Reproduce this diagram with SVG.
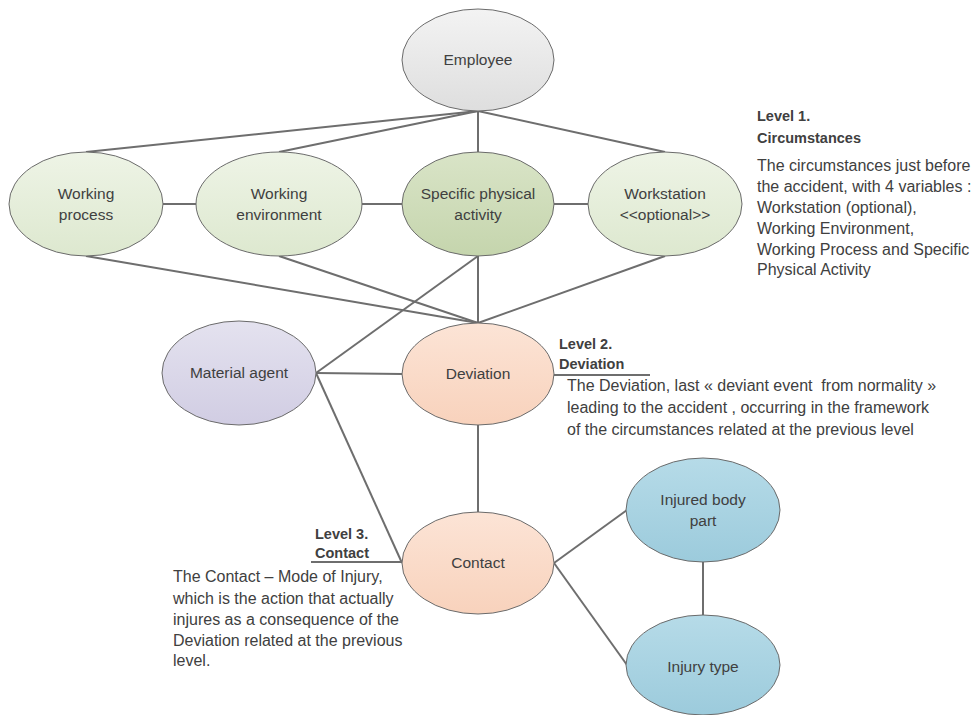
<svg xmlns="http://www.w3.org/2000/svg" width="974" height="715" viewBox="0 0 974 715">
<defs>
<linearGradient id="gGrey" x1="0" y1="0" x2="0" y2="1"><stop offset="0" stop-color="#f3f3f3"/><stop offset="1" stop-color="#dedede"/></linearGradient>
<linearGradient id="gGreen" x1="0" y1="0" x2="0" y2="1"><stop offset="0" stop-color="#eef4e6"/><stop offset="1" stop-color="#dde8cf"/></linearGradient>
<linearGradient id="gGreenD" x1="0" y1="0" x2="0" y2="1"><stop offset="0" stop-color="#d9e4c7"/><stop offset="1" stop-color="#c5d5ad"/></linearGradient>
<linearGradient id="gLav" x1="0" y1="0" x2="0" y2="1"><stop offset="0" stop-color="#e4e2ef"/><stop offset="1" stop-color="#d1cde3"/></linearGradient>
<linearGradient id="gPeach" x1="0" y1="0" x2="0" y2="1"><stop offset="0" stop-color="#fce4d6"/><stop offset="1" stop-color="#f8d2bc"/></linearGradient>
<linearGradient id="gBlue" x1="0" y1="0" x2="0" y2="1"><stop offset="0" stop-color="#b6dbe8"/><stop offset="1" stop-color="#9ccbdc"/></linearGradient>
</defs>
<style>
.node ellipse{stroke:#6b6b6b;stroke-width:1}
.lbl{font-family:"Liberation Sans",Arial,sans-serif;font-size:15.5px;fill:#404040;text-anchor:middle}
.conn line{stroke:#6e6e6e;stroke-width:2}
.t{font-family:"Liberation Sans",Arial,sans-serif;font-size:16px;fill:#404040}
.b{font-weight:bold;font-size:14.5px}
</style>
<rect width="974" height="715" fill="#ffffff"/>
<g id="connectors" class="conn">
<line x1="478" y1="111" x2="86" y2="152"/>
<line x1="478" y1="111" x2="279" y2="152"/>
<line x1="478" y1="111" x2="478" y2="152"/>
<line x1="478" y1="111" x2="665" y2="152"/>
<line x1="162" y1="204" x2="196" y2="204"/>
<line x1="362" y1="204" x2="403" y2="204"/>
<line x1="554" y1="204" x2="588" y2="204"/>
<line x1="86" y1="256" x2="478" y2="323"/>
<line x1="279" y1="256" x2="478" y2="323"/>
<line x1="478" y1="256" x2="478" y2="323"/>
<line x1="665" y1="256" x2="478" y2="323"/>
<line x1="316" y1="373" x2="478" y2="256"/>
<line x1="316" y1="373" x2="402" y2="374"/>
<line x1="316" y1="373" x2="402" y2="563"/>
<line x1="478" y1="425" x2="478" y2="512"/>
<line x1="554" y1="563" x2="627" y2="510"/>
<line x1="554" y1="563" x2="627" y2="665"/>
<line x1="703" y1="562" x2="703" y2="616"/>
<line x1="554" y1="375" x2="650" y2="375"/>
<line x1="311" y1="562" x2="402" y2="562"/>
</g>
<g id="employee" class="node"><ellipse cx="478" cy="60" rx="76" ry="51" fill="url(#gGrey)"/><text class="lbl" x="478" y="65">Employee</text></g>
<g id="working-process" class="node"><ellipse cx="86" cy="204" rx="77" ry="52" fill="url(#gGreen)"/><text class="lbl" x="86" y="199">Working</text><text class="lbl" x="86" y="220">process</text></g>
<g id="working-environment" class="node"><ellipse cx="279" cy="204" rx="83" ry="52" fill="url(#gGreen)"/><text class="lbl" x="279" y="199">Working</text><text class="lbl" x="279" y="220">environment</text></g>
<g id="specific-physical-activity" class="node"><ellipse cx="478" cy="204" rx="76" ry="52" fill="url(#gGreenD)"/><text class="lbl" x="478" y="199">Specific physical</text><text class="lbl" x="478" y="220">activity</text></g>
<g id="workstation" class="node"><ellipse cx="665" cy="204" rx="77" ry="52" fill="url(#gGreen)"/><text class="lbl" x="665" y="199">Workstation</text><text class="lbl" x="665" y="220">&lt;&lt;optional&gt;&gt;</text></g>
<g id="material-agent" class="node"><ellipse cx="239" cy="373" rx="77" ry="52" fill="url(#gLav)"/><text class="lbl" x="239" y="378">Material agent</text></g>
<g id="deviation" class="node"><ellipse cx="478" cy="374" rx="76" ry="51" fill="url(#gPeach)"/><text class="lbl" x="478" y="379">Deviation</text></g>
<g id="contact" class="node"><ellipse cx="478" cy="563" rx="76" ry="51" fill="url(#gPeach)"/><text class="lbl" x="478" y="568">Contact</text></g>
<g id="injured-body-part" class="node"><ellipse cx="703" cy="510" rx="77" ry="52" fill="url(#gBlue)"/><text class="lbl" x="703" y="505">Injured body</text><text class="lbl" x="703" y="526">part</text></g>
<g id="injury-type" class="node"><ellipse cx="703" cy="665" rx="77" ry="50" fill="url(#gBlue)"/><text class="lbl" x="703" y="672">Injury type</text></g>
<g id="level1">
<text class="t b" x="757" y="121">Level 1.</text>
<text class="t b" x="757" y="143">Circumstances</text>
<text class="t" x="757" y="171">The circumstances just before</text>
<text class="t" x="757" y="192">the accident, with 4 variables :</text>
<text class="t" x="757" y="213">Workstation (optional),</text>
<text class="t" x="757" y="234">Working Environment,</text>
<text class="t" x="757" y="255">Working Process and Specific</text>
<text class="t" x="757" y="275">Physical Activity</text>
</g>
<g id="level2">
<text class="t b" x="559" y="349">Level 2.</text>
<text class="t b" x="559" y="369">Deviation</text>
<text class="t" x="567" y="391">The Deviation, last « deviant event&#160; from normality »</text>
<text class="t" x="567" y="413">leading to the accident , occurring in the framework</text>
<text class="t" x="567" y="435">of the circumstances related at the previous level</text>
</g>
<g id="level3">
<text class="t b" x="315" y="539">Level 3.</text>
<text class="t b" x="315" y="558">Contact</text>
<text class="t" x="173" y="582">The Contact – Mode of Injury,</text>
<text class="t" x="173" y="604">which is the action that actually</text>
<text class="t" x="173" y="625">injures as a consequence of the</text>
<text class="t" x="173" y="646">Deviation related at the previous</text>
<text class="t" x="173" y="666">level.</text>
</g>
</svg>
